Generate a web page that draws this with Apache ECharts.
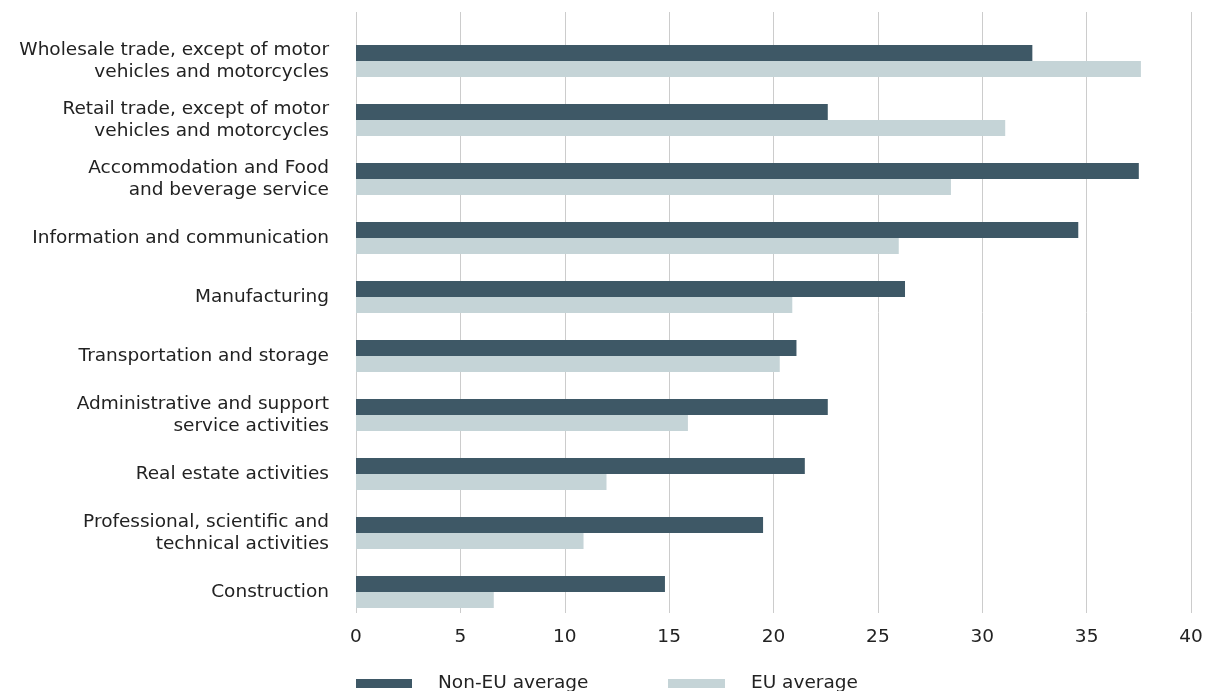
<!DOCTYPE html>
<html>
<head>
<meta charset="utf-8">
<script src="https://cdn.jsdelivr.net/npm/echarts@6/dist/echarts.min.js"></script>
<style>
  html, body { margin: 0; padding: 0; background: #fff; }
  #chart { width: 1212px; height: 691px; }
</style>
</head>
<body>
<div id="chart"></div>
<script>
// sectors, top to bottom
const sectors = [
  'Wholesale trade, except of motor\nvehicles and motorcycles',
  'Retail trade, except of motor\nvehicles and motorcycles',
  'Accommodation and Food\nand beverage service',
  'Information and communication',
  'Manufacturing',
  'Transportation and storage',
  'Administrative and support\nservice activities',
  'Real estate activities',
  'Professional, scientific and\ntechnical activities',
  'Construction'
];
const nonEu = [32.4, 22.6, 37.5, 34.6, 26.3, 21.1, 22.6, 21.5, 19.5, 14.8];
const eu = [37.6, 31.1, 28.5, 26.0, 20.9, 20.3, 15.9, 12.0, 10.9, 6.6];
const ticks = [0, 5, 10, 15, 20, 25, 30, 35, 40];

const darkCol = '#3e5866';
const lightCol = '#c5d4d7';
const font = 'DejaVu Sans';

const chart = echarts.init(document.getElementById('chart'));
chart.setOption({
  animation: false,
  textStyle: { fontFamily: font },
  legend: [
    {
      data: ['Non-EU average'], left: 356, top: 674, icon: 'rect',
      itemWidth: 56, itemHeight: 9, padding: 0,
      textStyle: { fontSize: 18.5, color: '#222', fontFamily: font, padding: [0, 0, 0, 21] }
    },
    {
      data: ['EU average'], left: 668, top: 674, icon: 'rect',
      itemWidth: 57, itemHeight: 9, padding: 0,
      textStyle: { fontSize: 18.5, color: '#222', fontFamily: font, padding: [0, 0, 0, 21] }
    }
  ],
  grid: [
    { left: 356, right: 21, top: 31.5, height: 590, containLabel: false },
    { left: 356, right: 21, top: 12, height: 601, containLabel: false }
  ],
  xAxis: [
    {
      gridIndex: 0, type: 'value', min: ticks[0], max: ticks[ticks.length - 1], interval: 5,
      axisLine: { show: false }, axisTick: { show: false }, splitLine: { show: false },
      axisLabel: { fontSize: 18.5, color: '#222', margin: 6, fontFamily: font }
    },
    {
      gridIndex: 1, type: 'value', min: ticks[0], max: ticks[ticks.length - 1], interval: 5,
      axisLine: { show: false }, axisTick: { show: false }, axisLabel: { show: false },
      splitLine: { show: true, lineStyle: { color: '#cccccc', width: 1 } }
    }
  ],
  yAxis: [
    {
      gridIndex: 0, type: 'category', data: sectors, inverse: true,
      axisLine: { show: false }, axisTick: { show: false },
      axisLabel: { fontSize: 18.5, color: '#222', margin: 27, lineHeight: 22, align: 'right', fontFamily: font }
    },
    {
      gridIndex: 1, type: 'category', data: sectors, inverse: true, show: false
    }
  ],
  series: [
    {
      name: 'Non-EU average', type: 'bar', data: nonEu, xAxisIndex: 0, yAxisIndex: 0,
      barWidth: 16, barGap: '0%', itemStyle: { color: darkCol }, z: 3
    },
    {
      name: 'EU average', type: 'bar', data: eu, xAxisIndex: 0, yAxisIndex: 0,
      barWidth: 16, barGap: '0%', itemStyle: { color: lightCol }, z: 3
    }
  ]
});
</script>
</body>
</html>
